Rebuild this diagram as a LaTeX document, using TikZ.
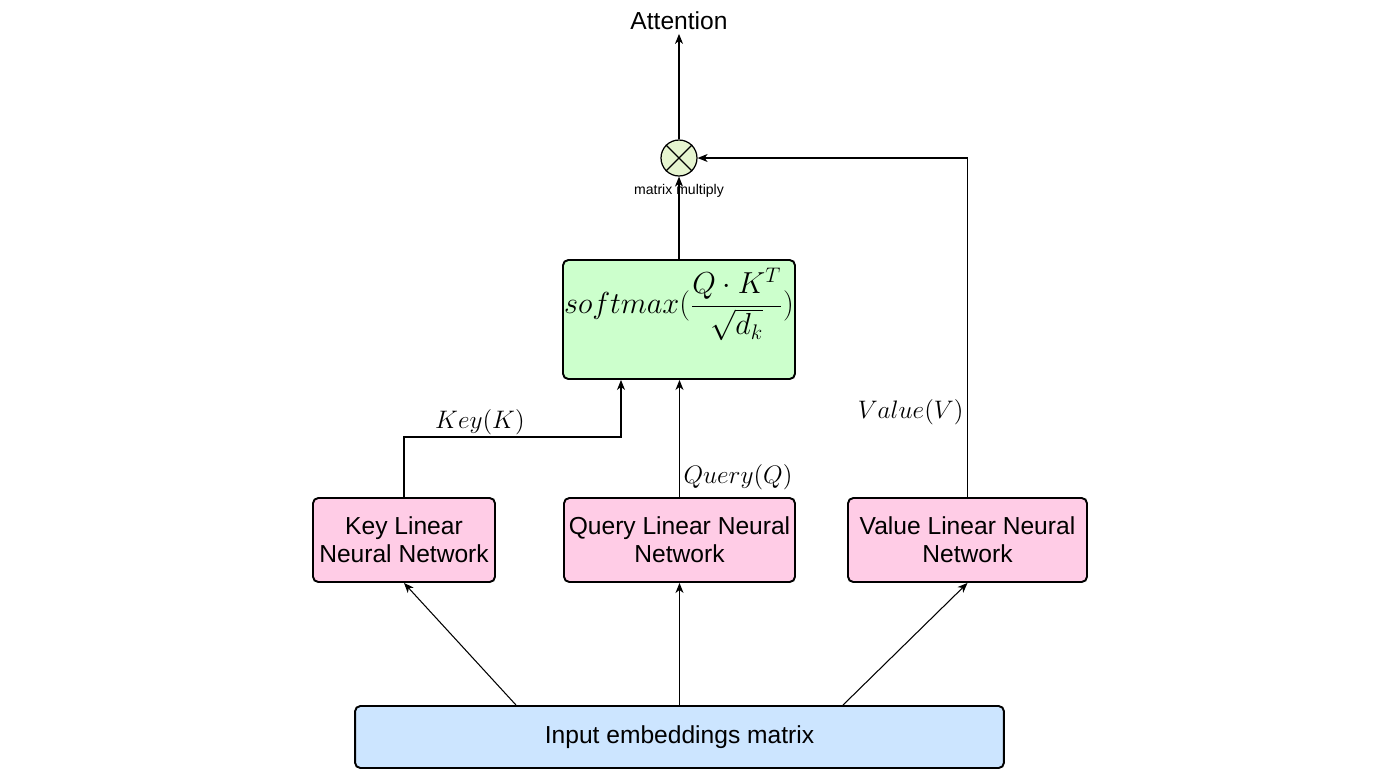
\documentclass[tikz,border=0pt]{standalone}
\usepackage{fontspec}
\setsansfont{Liberation Sans}
\usetikzlibrary{arrows.meta,calc}

\definecolor{softgreen}{HTML}{CCFFCC}
\definecolor{netpink}{HTML}{FFCCE6}
\definecolor{inblue}{HTML}{CCE5FF}
\definecolor{multfill}{HTML}{E6F5D0}

\begin{document}
\begin{tikzpicture}[x=0.02cm, y=-0.02cm]
    % Styles for the nodes
    \tikzstyle{net}=[rectangle, draw, fill=netpink, rounded corners=3pt, line width=1.1pt, minimum height=1.68cm, align=center, font=\sffamily\fontsize{14}{16}\selectfont, inner sep=1pt]
    \tikzstyle{softbox}=[rectangle, draw, fill=softgreen, rounded corners=3pt, line width=1.1pt, minimum width=4.64cm, minimum height=2.38cm]
    \tikzstyle{inbox}=[rectangle, draw, fill=inblue, rounded corners=3pt, line width=1.1pt, minimum width=12.98cm, minimum height=1.24cm, font=\sffamily\fontsize{14}{16}\selectfont]
    \tikzstyle{mult}=[circle, draw, fill=multfill, line width=0.7pt, minimum size=0.72cm, inner sep=0pt]
    \tikzstyle{lbl}=[font=\fontsize{14}{16}\selectfont, inner sep=2pt]
    \tikzstyle{arrow}=[-{Stealth[length=2mm, width=1.6mm, inset=0.6mm]}, line width=0.6pt]

    \useasboundingbox (0,0) rectangle (1400,775);

    % Input
    \node[inbox] (input) at (679.5,737) {Input embeddings matrix};

    % Linear networks
    \node[net, minimum width=3.64cm] (key) at (404,540) {Key Linear\\Neural Network};
    \node[net, minimum width=4.62cm] (query) at (679.5,540) {Query Linear Neural\\Network};
    \node[net, minimum width=4.78cm] (value) at (967.5,540) {Value Linear Neural\\Network};

    % Softmax, multiply and output
    \node[softbox] (soft) at (679,319.5) {};
    \node[font=\fontsize{16.5}{19}\selectfont, inner sep=0pt] (softtxt) at (679,304) {$softmax(\displaystyle\frac{Q\cdot K^T}{\sqrt{d_k}})$};
    \node[mult] (mul) at (679,158) {};
    \draw[line width=0.7pt] (mul.north west) -- (mul.south east);
    \draw[line width=0.7pt] (mul.north east) -- (mul.south west);
    \node[font=\sffamily\fontsize{8}{9}\selectfont, inner sep=0pt] (multlbl) at (679,191) {matrix multiply};
    \node[font=\sffamily\fontsize{14}{16}\selectfont, inner sep=2pt] (attn) at (679,21) {Attention};

    % Arrows from the input
    \draw[arrow] (516,0 |- input.north) -- (key.south);
    \draw[arrow] (input.north -| query.south) -- (query.south);
    \draw[arrow] (843,0 |- input.north) -- (value.south);

    % Key, query and value
    \coordinate (kbend) at (621,437);
    \draw[arrow] (key.north) |- node[lbl, above, pos=0.675, inner sep=1pt] (klbl) {$Key(K)$} (kbend) -- (kbend |- soft.south);
    \draw[arrow] (query.north) -- node[lbl, right, pos=0.17] (qlbl) {$Query(Q)$} (query.north |- soft.south);
    \draw[arrow] (value.north) |- node[lbl, left, pos=0.125] (vlbl) {$Value(V)$} (mul.east);

    % Up to the output
    \draw[arrow] (soft.north) -- (mul.south);
    \draw[arrow] (mul.north) -- (attn.south);
\end{tikzpicture}
\end{document}
